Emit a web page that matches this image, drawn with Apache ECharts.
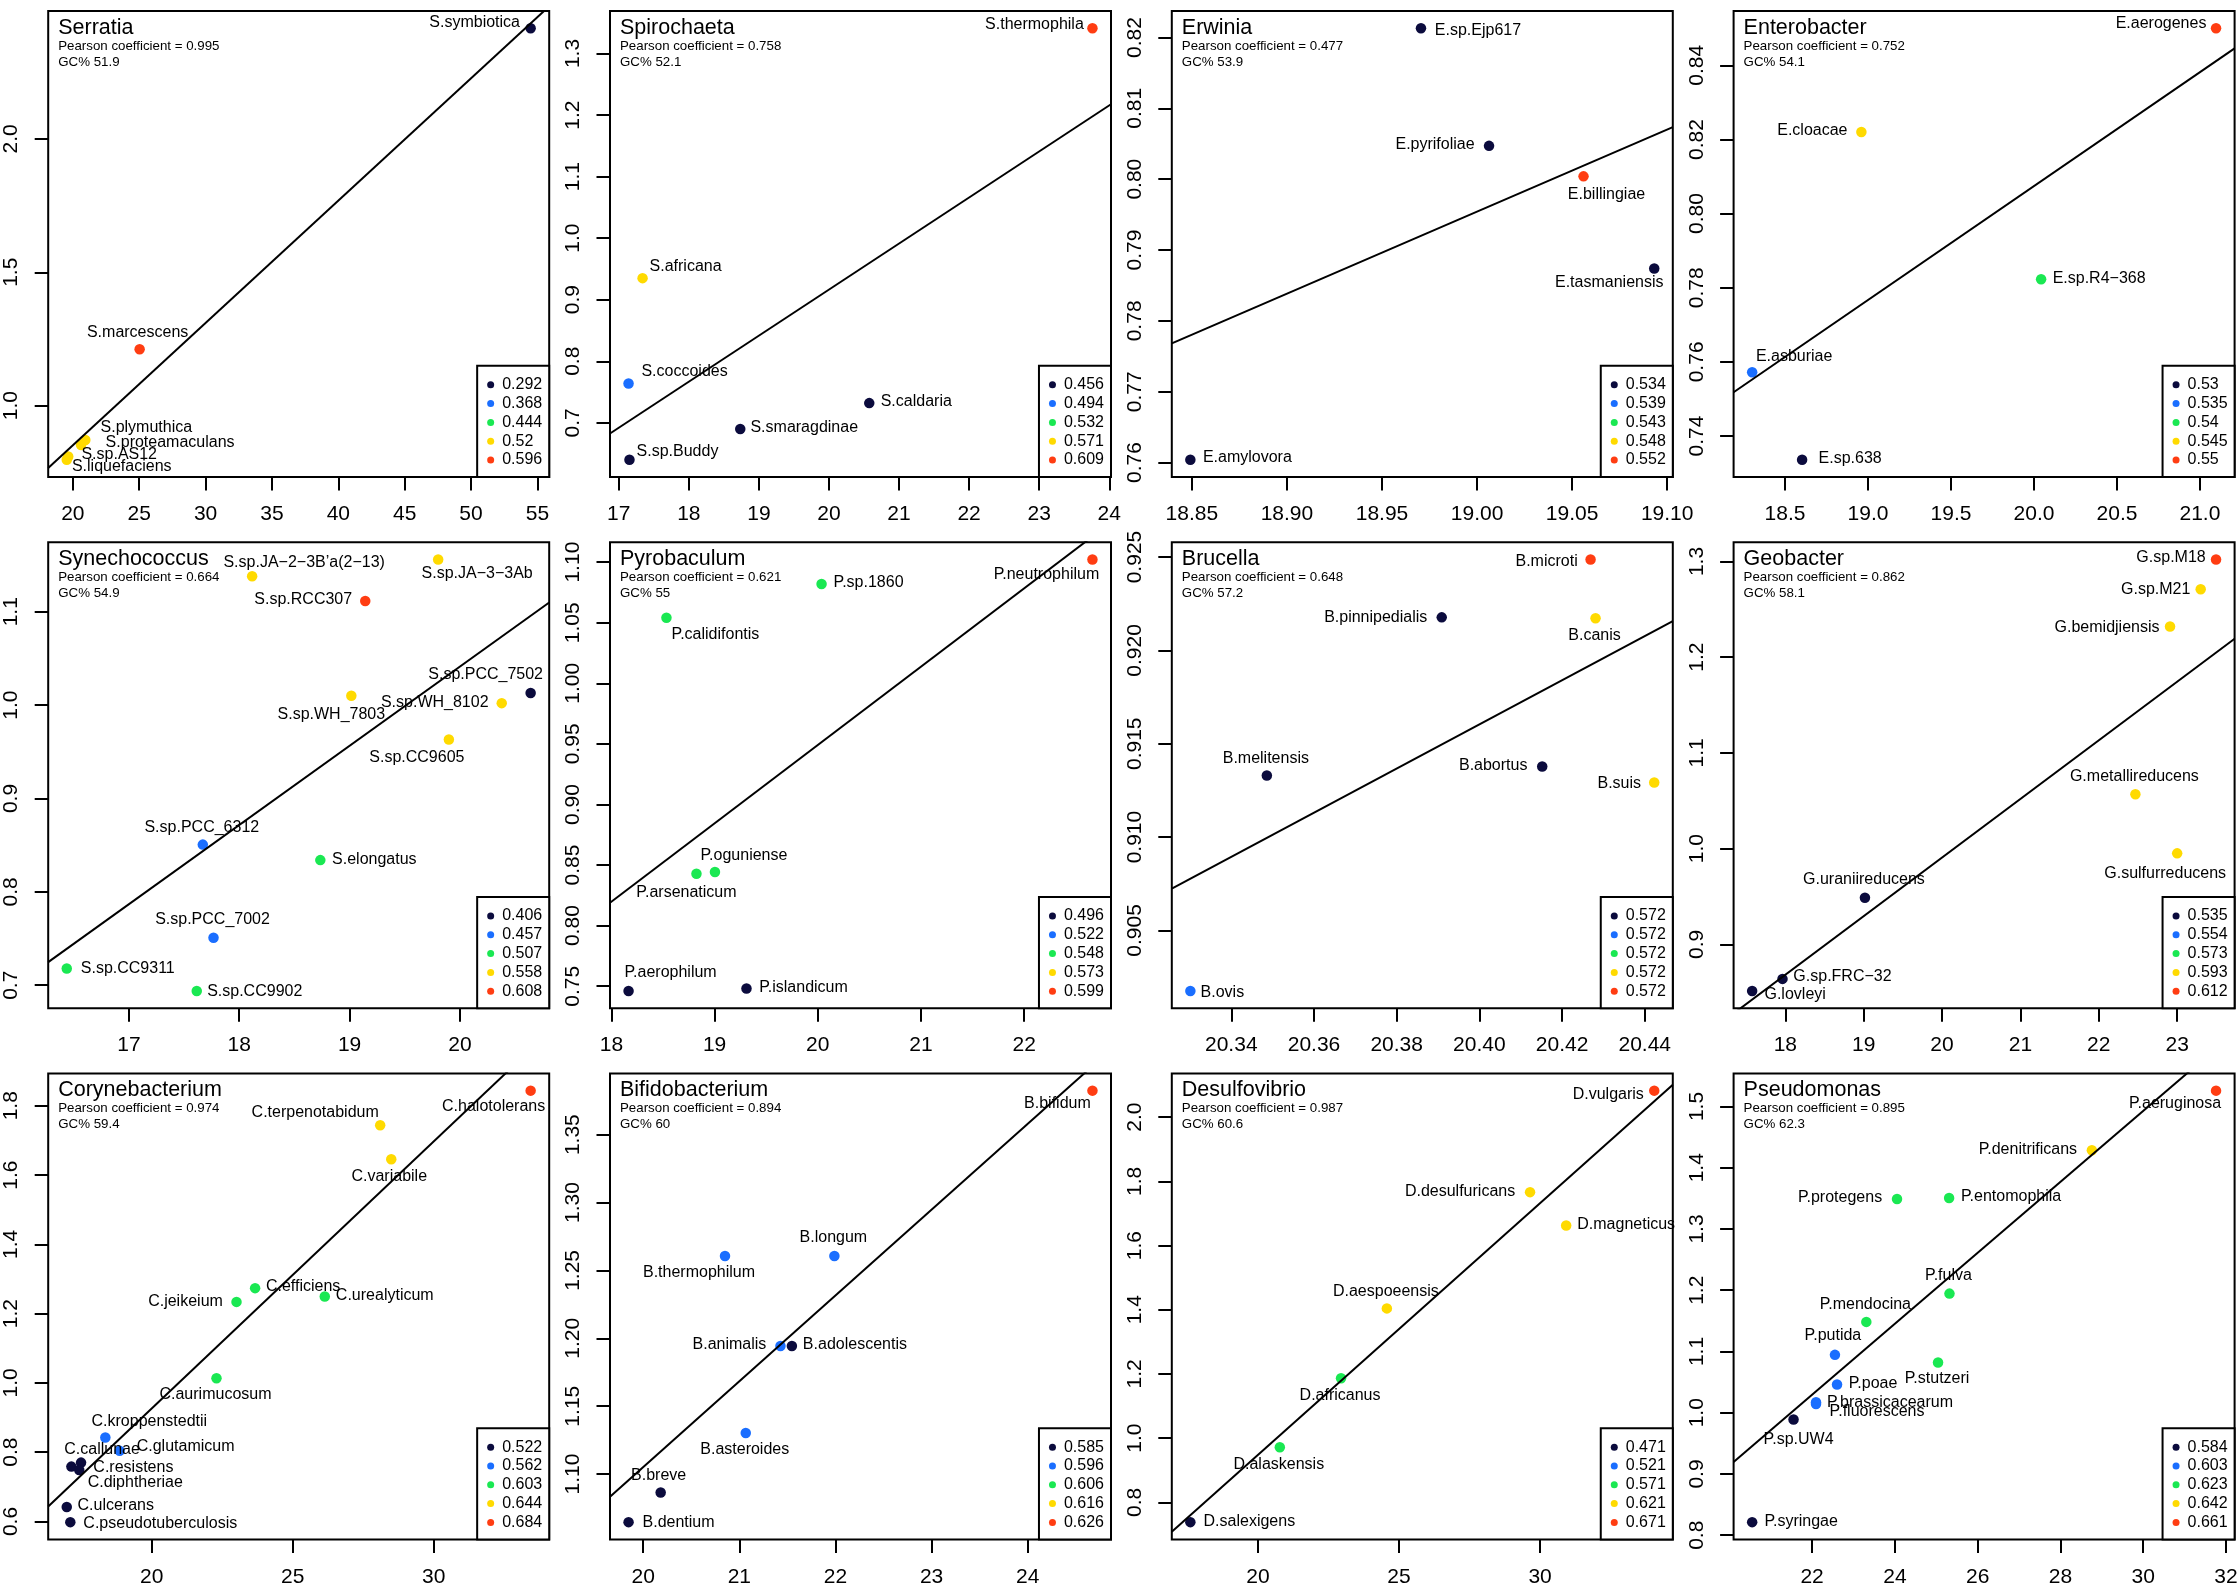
<!DOCTYPE html>
<html><head><meta charset="utf-8">
<script src="https://cdn.jsdelivr.net/npm/echarts@6/dist/echarts.min.js"></script>
<style>html,body{margin:0;padding:0;background:#fff}#c{width:2239px;height:1592px}</style>
</head><body><div id="c"></div>
<script>
// ---------------- DATA ----------------
// 1 Serratia
const serratiaNames = ["S.symbiotica","S.marcescens","S.plymuthica","S.proteamaculans","S.sp.AS12","S.liquefaciens"];
const serratiaX = [54.49, 25.03, 20.94, 20.62, 19.65, 19.54];
const serratiaY = [2.415, 1.211, 0.871, 0.852, 0.809, 0.797];
const serratiaClass = [0, 4, 3, 3, 3, 3];
const serratiaLegend = ["0.292","0.368","0.444","0.52","0.596"];
const serratiaXTicks = ["20","25","30","35","40","45","50","55"];
const serratiaYTicks = ["1.0","1.5","2.0"];
const serratiaPearson = "0.995", serratiaGC = "51.9";
// 2 Spirochaeta
const spirochaetaNames = ["S.thermophila","S.africana","S.coccoides","S.caldaria","S.smaragdinae","S.sp.Buddy"];
const spirochaetaX = [23.76, 17.34, 17.14, 20.575, 18.734, 17.153];
const spirochaetaY = [1.341, 0.935, 0.764, 0.732, 0.690, 0.640];
const spirochaetaClass = [4, 3, 1, 0, 0, 0];
const spirochaetaLegend = ["0.456","0.494","0.532","0.571","0.609"];
const spirochaetaXTicks = ["17","18","19","20","21","22","23","24"];
const spirochaetaYTicks = ["0.7","0.8","0.9","1.0","1.1","1.2","1.3"];
const spirochaetaPearson = "0.758", spirochaetaGC = "52.1";
// 3 Erwinia
const erwiniaNames = ["E.sp.Ejp617","E.pyrifoliae","E.billingiae","E.tasmaniensis","E.amylovora"];
const erwiniaX = [18.9705, 19.0063, 19.056, 19.0932, 18.8492];
const erwiniaY = [0.8213, 0.8047, 0.8004, 0.7874, 0.7604];
const erwiniaClass = [0, 0, 4, 0, 0];
const erwiniaLegend = ["0.534","0.539","0.543","0.548","0.552"];
const erwiniaXTicks = ["18.85","18.90","18.95","19.00","19.05","19.10"];
const erwiniaYTicks = ["0.76","0.77","0.78","0.79","0.80","0.81","0.82"];
const erwiniaPearson = "0.477", erwiniaGC = "53.9";
// 4 Enterobacter
const enterobacterNames = ["E.aerogenes","E.cloacae","E.sp.R4\u2212368","E.asburiae","E.sp.638"];
const enterobacterX = [21.097, 18.96, 20.043, 18.302, 18.603];
const enterobacterY = [0.8500, 0.8220, 0.7823, 0.7572, 0.7336];
const enterobacterClass = [4, 3, 2, 1, 0];
const enterobacterLegend = ["0.53","0.535","0.54","0.545","0.55"];
const enterobacterXTicks = ["18.5","19.0","19.5","20.0","20.5","21.0"];
const enterobacterYTicks = ["0.74","0.76","0.78","0.80","0.82","0.84"];
const enterobacterPearson = "0.752", enterobacterGC = "54.1";
// 5 Synechococcus
const synechococcusNames = ["S.sp.JA\u22123\u22123Ab","S.sp.JA\u22122\u22123B\u2019a(2\u221213)","S.sp.RCC307","S.sp.PCC_7502","S.sp.WH_8102","S.sp.WH_7803","S.sp.CC9605","S.sp.PCC_6312","S.elongatus","S.sp.PCC_7002","S.sp.CC9311","S.sp.CC9902"];
const synechococcusX = [19.803, 18.117, 19.142, 20.641, 20.379, 19.016, 19.900, 17.670, 18.735, 17.767, 16.437, 17.615];
const synechococcusY = [1.156, 1.138, 1.1115, 1.0129, 1.0021, 1.010, 0.9631, 0.8506, 0.834, 0.7509, 0.7179, 0.6939];
const synechococcusClass = [3, 3, 4, 0, 3, 3, 3, 1, 2, 1, 2, 2];
const synechococcusLegend = ["0.406","0.457","0.507","0.558","0.608"];
const synechococcusXTicks = ["17","18","19","20"];
const synechococcusYTicks = ["0.7","0.8","0.9","1.0","1.1"];
const synechococcusPearson = "0.664", synechococcusGC = "54.9";
// 6 Pyrobaculum
const pyrobaculumNames = ["P.neutrophilum","P.sp.1860","P.calidifontis","P.oguniense","P.arsenaticum","P.aerophilum","P.islandicum"];
const pyrobaculumX = [22.6615, 20.0364, 18.5333, 19.0035, 18.8242, 18.1662, 19.309];
const pyrobaculumY = [1.1022, 1.0820, 1.0541, 0.8442, 0.8428, 0.7461, 0.7481];
const pyrobaculumClass = [4, 2, 2, 2, 2, 0, 0];
const pyrobaculumLegend = ["0.496","0.522","0.548","0.573","0.599"];
const pyrobaculumXTicks = ["18","19","20","21","22"];
const pyrobaculumYTicks = ["0.75","0.80","0.85","0.90","0.95","1.00","1.05","1.10"];
const pyrobaculumPearson = "0.621", pyrobaculumGC = "55";
// 7 Brucella
const brucellaNames = ["B.microti","B.pinnipedialis","B.canis","B.melitensis","B.abortus","B.suis","B.ovis"];
const brucellaX = [20.4269, 20.3909, 20.4281, 20.3486, 20.4152, 20.4423, 20.3301];
const brucellaY = [0.92487, 0.92177, 0.92172, 0.9133, 0.91378, 0.91292, 0.90176];
const brucellaClass = [4, 0, 3, 0, 0, 3, 1];
const brucellaLegend = ["0.572","0.572","0.572","0.572","0.572"];
const brucellaXTicks = ["20.34","20.36","20.38","20.40","20.42","20.44"];
const brucellaYTicks = ["0.905","0.910","0.915","0.920","0.925"];
const brucellaPearson = "0.648", brucellaGC = "57.2";
// 8 Geobacter
const geobacterNames = ["G.sp.M18","G.sp.M21","G.bemidjiensis","G.metallireducens","G.sulfurreducens","G.uraniireducens","G.sp.FRC\u221232","G.lovleyi"];
const geobacterX = [23.496, 23.300, 22.909, 22.467, 23.000, 19.016, 17.964, 17.577];
const geobacterY = [1.3021, 1.2710, 1.2321, 1.0569, 0.9951, 0.9487, 0.8640, 0.8514];
const geobacterClass = [4, 3, 3, 3, 3, 0, 0, 0];
const geobacterLegend = ["0.535","0.554","0.573","0.593","0.612"];
const geobacterXTicks = ["18","19","20","21","22","23"];
const geobacterYTicks = ["0.9","1.0","1.1","1.2","1.3"];
const geobacterPearson = "0.862", geobacterGC = "58.1";
// 9 Corynebacterium
const corynebacteriumNames = ["C.halotolerans","C.terpenotabidum","C.variabile","C.efficiens","C.jeikeium","C.urealyticum","C.aurimucosum","C.kroppenstedtii","C.glutamicum","C.callunae","C.resistens","C.diphtheriae","C.ulcerans","C.pseudotuberculosis"];
const corynebacteriumX = [33.435, 28.099, 28.492, 23.663, 23.004, 26.134, 22.294, 18.352, 18.859, 17.491, 17.148, 17.427, 16.984, 17.110];
const corynebacteriumY = [1.8436, 1.7438, 1.6455, 1.2736, 1.2339, 1.2494, 1.0136, 0.8426, 0.8039, 0.7700, 0.7584, 0.7487, 0.6417, 0.5981];
const corynebacteriumClass = [4, 3, 3, 2, 2, 2, 2, 1, 1, 0, 0, 0, 0, 0];
const corynebacteriumLegend = ["0.522","0.562","0.603","0.644","0.684"];
const corynebacteriumXTicks = ["20","25","30"];
const corynebacteriumYTicks = ["0.6","0.8","1.0","1.2","1.4","1.6","1.8"];
const corynebacteriumPearson = "0.974", corynebacteriumGC = "59.4";
// 10 Bifidobacterium
const bifidobacteriumNames = ["B.bifidum","B.longum","B.thermophilum","B.animalis","B.adolescentis","B.asteroides","B.breve","B.dentium"];
const bifidobacteriumX = [24.673, 21.989, 20.851, 21.428, 21.547, 21.067, 20.182, 19.848];
const bifidobacteriumY = [1.3824, 1.2606, 1.2606, 1.1943, 1.1943, 1.1302, 1.0864, 1.0646];
const bifidobacteriumClass = [4, 1, 1, 1, 0, 1, 0, 0];
const bifidobacteriumLegend = ["0.585","0.596","0.606","0.616","0.626"];
const bifidobacteriumXTicks = ["20","21","22","23","24"];
const bifidobacteriumYTicks = ["1.10","1.15","1.20","1.25","1.30","1.35"];
const bifidobacteriumPearson = "0.894", bifidobacteriumGC = "60";
// 11 Desulfovibrio
const desulfovibrioNames = ["D.vulgaris","D.desulfuricans","D.magneticus","D.aespoeensis","D.africanus","D.alaskensis","D.salexigens"];
const desulfovibrioX = [34.048, 29.645, 30.926, 24.569, 22.944, 20.774, 17.602];
const desulfovibrioY = [2.0827, 1.7665, 1.6628, 1.4042, 1.1864, 0.9717, 0.7382];
const desulfovibrioClass = [4, 3, 3, 3, 2, 2, 0];
const desulfovibrioLegend = ["0.471","0.521","0.571","0.621","0.671"];
const desulfovibrioXTicks = ["20","25","30"];
const desulfovibrioYTicks = ["0.8","1.0","1.2","1.4","1.6","1.8","2.0"];
const desulfovibrioPearson = "0.987", desulfovibrioGC = "60.6";
// 12 Pseudomonas
const pseudomonasNames = ["P.aeruginosa","P.denitrificans","P.protegens","P.entomophila","P.fulva","P.mendocina","P.putida","P.stutzeri","P.poae","P.brassicacearum","P.fluorescens","P.sp.UW4","P.syringae"];
const pseudomonasX = [31.759, 28.759, 24.052, 25.310, 25.319, 23.310, 22.552, 25.043, 22.603, 22.095, 22.095, 21.552, 20.552];
const pseudomonasY = [1.5258, 1.4285, 1.3488, 1.3505, 1.1945, 1.1483, 1.0945, 1.0819, 1.0461, 1.0170, 1.0143, 0.9890, 0.8214];
const pseudomonasClass = [4, 3, 2, 2, 2, 2, 1, 2, 1, 1, 1, 0, 0];
const pseudomonasLegend = ["0.584","0.603","0.623","0.642","0.661"];
const pseudomonasXTicks = ["22","24","26","28","30","32"];
const pseudomonasYTicks = ["0.8","0.9","1.0","1.1","1.2","1.3","1.4","1.5"];
const pseudomonasPearson = "0.895", pseudomonasGC = "62.3";

// ---------------- STYLE (label offsets in px, colours) ----------------
const serratiaLabelOffset = [[-56,-6],[-2,-17],[61,-12],[89,-2],[51,-2],[55,7]];
const spirochaetaLabelOffset = [[-58,-4],[43,-12],[56,-12],[47,-2],[64,-1],[48,-8]];
const erwiniaLabelOffset = [[57,2],[-54,-1],[23,18],[-45,14],[57,-2]];
const enterobacterLabelOffset = [[-55,-5],[-49,-1],[58,-1],[42,-16],[48,-1]];
const synechococcusLabelOffset = [[39,14],[52,-14],[-62,-1],[-45,-18],[-67,-1],[-20,19],[-32,18],[-1,-17],[54,-1],[-1,-18],[61,0],[58,1]];
const pyrobaculumLabelOffset = [[-46,15],[47,-1],[49,17],[29,-16],[-10,19],[42,-18],[57,-1]];
const brucellaLabelOffset = [[-44,2],[-66,0],[-1,17],[-1,-17],[-49,-1],[-35,1],[32,2]];
const geobacterLabelOffset = [[-45,-2],[-45,0],[-63,1],[-1,-18],[-12,20],[-1,-18],[60,-2],[43,4]];
const corynebacteriumLabelOffset = [[-37,16],[-65,-13],[-2,17],[48,-2],[-51,0],[60,-1],[-1,16],[44,-16],[66,-4],[21,-13],[62,1],[56,13],[49,-1],[90,1]];
const bifidobacteriumLabelOffset = [[-35,13],[-1,-18],[-26,17],[-51,-1],[63,-1],[-1,17],[-2,-17],[50,0]];
const desulfovibrioLabelOffset = [[-46,4],[-70,-1],[60,-1],[-1,-17],[-1,17],[-1,17],[59,-1]];
const pseudomonasLabelOffset = [[-41,13],[-64,-1],[-57,-1],[62,-1],[-1,-18],[-1,-17],[-2,-19],[-1,16],[36,-1],[74,0],[61,8],[5,20],[49,-1]];

const palette = ["#0B0B3D", "#1A6EFF", "#1AE852", "#FFDA00", "#FF3D12"];
const FONT = '"Liberation Sans", Arial, Helvetica, sans-serif';
const W = 2239, H = 1592;

const panels = [
  {title:"Serratia", pearson:serratiaPearson, gc:serratiaGC, names:serratiaNames, x:serratiaX, y:serratiaY, cls:serratiaClass, legend:serratiaLegend, xt:serratiaXTicks, yt:serratiaYTicks, off:serratiaLabelOffset},
  {title:"Spirochaeta", pearson:spirochaetaPearson, gc:spirochaetaGC, names:spirochaetaNames, x:spirochaetaX, y:spirochaetaY, cls:spirochaetaClass, legend:spirochaetaLegend, xt:spirochaetaXTicks, yt:spirochaetaYTicks, off:spirochaetaLabelOffset},
  {title:"Erwinia", pearson:erwiniaPearson, gc:erwiniaGC, names:erwiniaNames, x:erwiniaX, y:erwiniaY, cls:erwiniaClass, legend:erwiniaLegend, xt:erwiniaXTicks, yt:erwiniaYTicks, off:erwiniaLabelOffset},
  {title:"Enterobacter", pearson:enterobacterPearson, gc:enterobacterGC, names:enterobacterNames, x:enterobacterX, y:enterobacterY, cls:enterobacterClass, legend:enterobacterLegend, xt:enterobacterXTicks, yt:enterobacterYTicks, off:enterobacterLabelOffset},
  {title:"Synechococcus", pearson:synechococcusPearson, gc:synechococcusGC, names:synechococcusNames, x:synechococcusX, y:synechococcusY, cls:synechococcusClass, legend:synechococcusLegend, xt:synechococcusXTicks, yt:synechococcusYTicks, off:synechococcusLabelOffset},
  {title:"Pyrobaculum", pearson:pyrobaculumPearson, gc:pyrobaculumGC, names:pyrobaculumNames, x:pyrobaculumX, y:pyrobaculumY, cls:pyrobaculumClass, legend:pyrobaculumLegend, xt:pyrobaculumXTicks, yt:pyrobaculumYTicks, off:pyrobaculumLabelOffset},
  {title:"Brucella", pearson:brucellaPearson, gc:brucellaGC, names:brucellaNames, x:brucellaX, y:brucellaY, cls:brucellaClass, legend:brucellaLegend, xt:brucellaXTicks, yt:brucellaYTicks, off:brucellaLabelOffset},
  {title:"Geobacter", pearson:geobacterPearson, gc:geobacterGC, names:geobacterNames, x:geobacterX, y:geobacterY, cls:geobacterClass, legend:geobacterLegend, xt:geobacterXTicks, yt:geobacterYTicks, off:geobacterLabelOffset},
  {title:"Corynebacterium", pearson:corynebacteriumPearson, gc:corynebacteriumGC, names:corynebacteriumNames, x:corynebacteriumX, y:corynebacteriumY, cls:corynebacteriumClass, legend:corynebacteriumLegend, xt:corynebacteriumXTicks, yt:corynebacteriumYTicks, off:corynebacteriumLabelOffset},
  {title:"Bifidobacterium", pearson:bifidobacteriumPearson, gc:bifidobacteriumGC, names:bifidobacteriumNames, x:bifidobacteriumX, y:bifidobacteriumY, cls:bifidobacteriumClass, legend:bifidobacteriumLegend, xt:bifidobacteriumXTicks, yt:bifidobacteriumYTicks, off:bifidobacteriumLabelOffset},
  {title:"Desulfovibrio", pearson:desulfovibrioPearson, gc:desulfovibrioGC, names:desulfovibrioNames, x:desulfovibrioX, y:desulfovibrioY, cls:desulfovibrioClass, legend:desulfovibrioLegend, xt:desulfovibrioXTicks, yt:desulfovibrioYTicks, off:desulfovibrioLabelOffset},
  {title:"Pseudomonas", pearson:pseudomonasPearson, gc:pseudomonasGC, names:pseudomonasNames, x:pseudomonasX, y:pseudomonasY, cls:pseudomonasClass, legend:pseudomonasLegend, xt:pseudomonasXTicks, yt:pseudomonasYTicks, off:pseudomonasLabelOffset}
];

function padRange(a){ const mn=Math.min(...a), mx=Math.max(...a), d=(mx-mn)*0.04; return [mn-d, mx+d]; }
function decimals(ts){ return Math.max(...ts.map(s => (s.split('.')[1]||'').length)); }
function fit(xs, ys){
  const n=xs.length; const mx=xs.reduce((s,v)=>s+v,0)/n, my=ys.reduce((s,v)=>s+v,0)/n;
  let sxy=0,sxx=0; for(let i=0;i<n;i++){ sxy+=(xs[i]-mx)*(ys[i]-my); sxx+=(xs[i]-mx)*(xs[i]-mx); }
  const b=sxy/sxx; return {a:my-b*mx, b};
}

const grids=[], xAxes=[], yAxes=[], series=[], legends=[], graphics=[];
const legendText = {};
panels.forEach((p, i) => {
  const col=i%4, row=Math.floor(i/4);
  const left=48.2+col*561.8, top=11+row*531.2, width=501, height=466;
  grids.push({left, top, width, height, show:true, borderColor:'#000', borderWidth:2, backgroundColor:'rgba(0,0,0,0)', containLabel:false, outerBoundsMode:'none'});
  const xr=padRange(p.x), yr=padRange(p.y);
  const xv=p.xt.map(Number), yv=p.yt.map(Number);
  const xd=decimals(p.xt), yd=decimals(p.yt);
  xAxes.push({type:'value', gridIndex:i, min:xr[0], max:xr[1], axisLine:{show:false}, splitLine:{show:false},
    axisTick:{show:true, inside:false, length:13.5, lineStyle:{color:'#000', width:2}, customValues:xv},
    axisLabel:{show:true, customValues:xv, formatter:v=>Number(v).toFixed(xd), fontSize:21, color:'#000', fontFamily:FONT, margin:27}});
  yAxes.push({type:'value', gridIndex:i, min:yr[0], max:yr[1], axisLine:{show:false}, splitLine:{show:false},
    axisTick:{show:true, inside:false, length:13.5, lineStyle:{color:'#000', width:2}, customValues:yv},
    axisLabel:{show:true, customValues:yv, formatter:v=>Number(v).toFixed(yd), fontSize:21, color:'#000', fontFamily:FONT, margin:26, rotate:90}});
  const lnames=[];
  for(let k=0;k<5;k++){
    const sname=i+'_'+k; lnames.push(sname); legendText[sname]=p.legend[k];
    const data=[];
    p.names.forEach((nm,j)=>{ if(p.cls[j]===k) data.push({name:nm, value:[p.x[j], p.y[j]], label:{offset:p.off[j]}}); });
    series.push({type:'scatter', name:sname, xAxisIndex:i, yAxisIndex:i, data, symbol:'circle', symbolSize:10.5,
      itemStyle:{color:palette[k], opacity:1}, emphasis:{disabled:true}, z:2,
      label:{show:true, formatter:'{b}', position:'inside', align:'center', verticalAlign:'middle', fontSize:16, color:'#000', fontFamily:FONT}});
  }
  const f=fit(p.x, p.y);
  series.push({type:'line', name:'fit'+i, xAxisIndex:i, yAxisIndex:i, data:[[xr[0], f.a+f.b*xr[0]],[xr[1], f.a+f.b*xr[1]]],
    showSymbol:false, symbol:'none', clip:true, silent:true, lineStyle:{color:'#000', width:2}, z:3, emphasis:{disabled:true}});
  legends.push({data:lnames, orient:'vertical', right:W-(left+width), bottom:H-(top+height), icon:'circle', itemWidth:7, itemHeight:7, itemGap:2.8,
    padding:[11,7,9,10], borderColor:'#000', borderWidth:2, borderRadius:0, backgroundColor:'#fff', selectedMode:false,
    textStyle:{fontSize:16, color:'#000', fontFamily:FONT, padding:[0,0,0,3], lineHeight:15}, formatter:n=>legendText[n]});
  const tx=left+10;
  graphics.push({type:'text', x:tx, y:top+17, style:{text:p.title, fontSize:21.5, fontFamily:FONT, fill:'#000', verticalAlign:'middle', textVerticalAlign:'middle'}});
  graphics.push({type:'text', x:tx, y:top+35, style:{text:'Pearson coefficient = '+p.pearson, fontSize:13.3, fontFamily:FONT, fill:'#000', verticalAlign:'middle', textVerticalAlign:'middle'}});
  graphics.push({type:'text', x:tx, y:top+51, style:{text:'GC% '+p.gc, fontSize:13.3, fontFamily:FONT, fill:'#000', verticalAlign:'middle', textVerticalAlign:'middle'}});
});

const chart = echarts.init(document.getElementById('c'), null, {renderer:'canvas', width:W, height:H});
chart.setOption({animation:false, backgroundColor:'#fff', textStyle:{fontFamily:FONT},
  grid:grids, xAxis:xAxes, yAxis:yAxes, series, legend:legends, graphic:graphics, tooltip:{show:false}});
</script></body></html>
